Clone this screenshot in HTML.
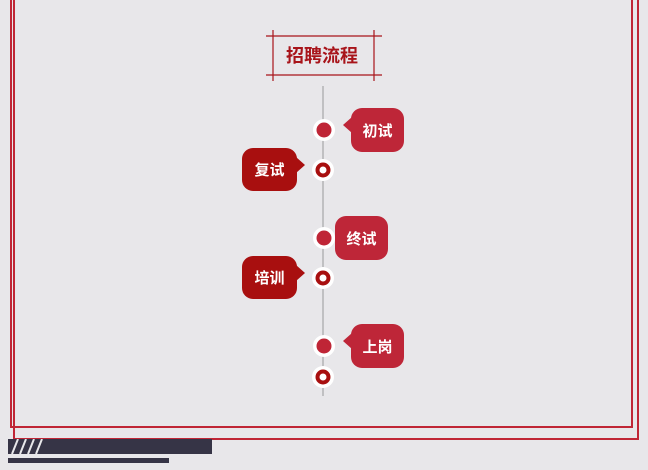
<!DOCTYPE html>
<html><head><meta charset="utf-8"><style>
html,body{margin:0;padding:0}
body{width:648px;height:470px;background:#e8e7ea;position:relative;overflow:hidden;font-family:"Liberation Sans","Noto Sans CJK SC",sans-serif}
.a{position:absolute}
.b{position:absolute;color:#fff;font-size:15px;font-weight:bold;display:flex;align-items:center;justify-content:center;border-radius:11px}
</style></head><body>
<div class="a" style="left:10px;top:-10px;width:619px;height:434px;border:2px solid #c02636"></div>
<div class="a" style="left:13px;top:-10px;width:622px;height:446px;border:2px solid #c02636"></div>
<div class="a" style="left:8px;top:439px;width:204px;height:15px;background:#363446"></div>
<div class="a" style="left:8px;top:458px;width:161px;height:5px;background:#363446"></div>
<svg class="a" style="left:8px;top:439px" width="40" height="15"><g stroke="#e8e7ea" stroke-width="2"><line x1="4" y1="15" x2="10" y2="0"/><line x1="12" y1="15" x2="18" y2="0"/><line x1="20" y1="15" x2="26" y2="0"/><line x1="28" y1="15" x2="34" y2="0"/></g></svg>
<svg class="a" style="left:0;top:0" width="648" height="470">
<g stroke="#a8141a" stroke-width="1.2">
<line x1="266" y1="36" x2="382" y2="36"/><line x1="266" y1="75" x2="382" y2="75"/>
<line x1="273" y1="30" x2="273" y2="81"/><line x1="374" y1="30" x2="374" y2="81"/>
</g>
<line x1="323" y1="86" x2="323" y2="396" stroke="#999" stroke-width="1"/>
<g fill="#fff"><circle cx="324" cy="130" r="11"/><circle cx="324" cy="238" r="11"/><circle cx="324" cy="346" r="11"/>
<circle cx="323" cy="170" r="11"/><circle cx="323" cy="278" r="11"/><circle cx="323" cy="377" r="11"/></g>
<g fill="#bf2536"><circle cx="324" cy="130" r="7.5"/><circle cx="324" cy="238" r="7.5"/><circle cx="324" cy="346" r="7.5"/></g>
<g fill="none" stroke="#a80f0f" stroke-width="4"><circle cx="323" cy="170" r="5.5"/><circle cx="323" cy="278" r="5.5"/><circle cx="323" cy="377" r="5.5"/></g>
<g fill="#be2638"><polygon points="343,125 352,117 352,133"/><polygon points="343,341 352,333 352,349"/></g>
<g fill="#a80f0f"><polygon points="305,165 296,157 296,173"/><polygon points="305,273 296,265 296,281"/></g>
<text x="322" y="62" text-anchor="middle" font-size="18" font-weight="bold" fill="#a8141a" font-family="Liberation Sans, Noto Sans CJK SC, sans-serif">招聘流程</text>
</svg>
<div class="b" style="left:351px;top:108px;width:53px;height:44px;background:#be2638">初试</div>
<div class="b" style="left:335px;top:216px;width:53px;height:44px;background:#be2638">终试</div>
<div class="b" style="left:351px;top:324px;width:53px;height:44px;background:#be2638">上岗</div>
<div class="b" style="left:242px;top:148px;width:55px;height:43px;background:#a80f0f">复试</div>
<div class="b" style="left:242px;top:256px;width:55px;height:43px;background:#a80f0f">培训</div>
</body></html>
